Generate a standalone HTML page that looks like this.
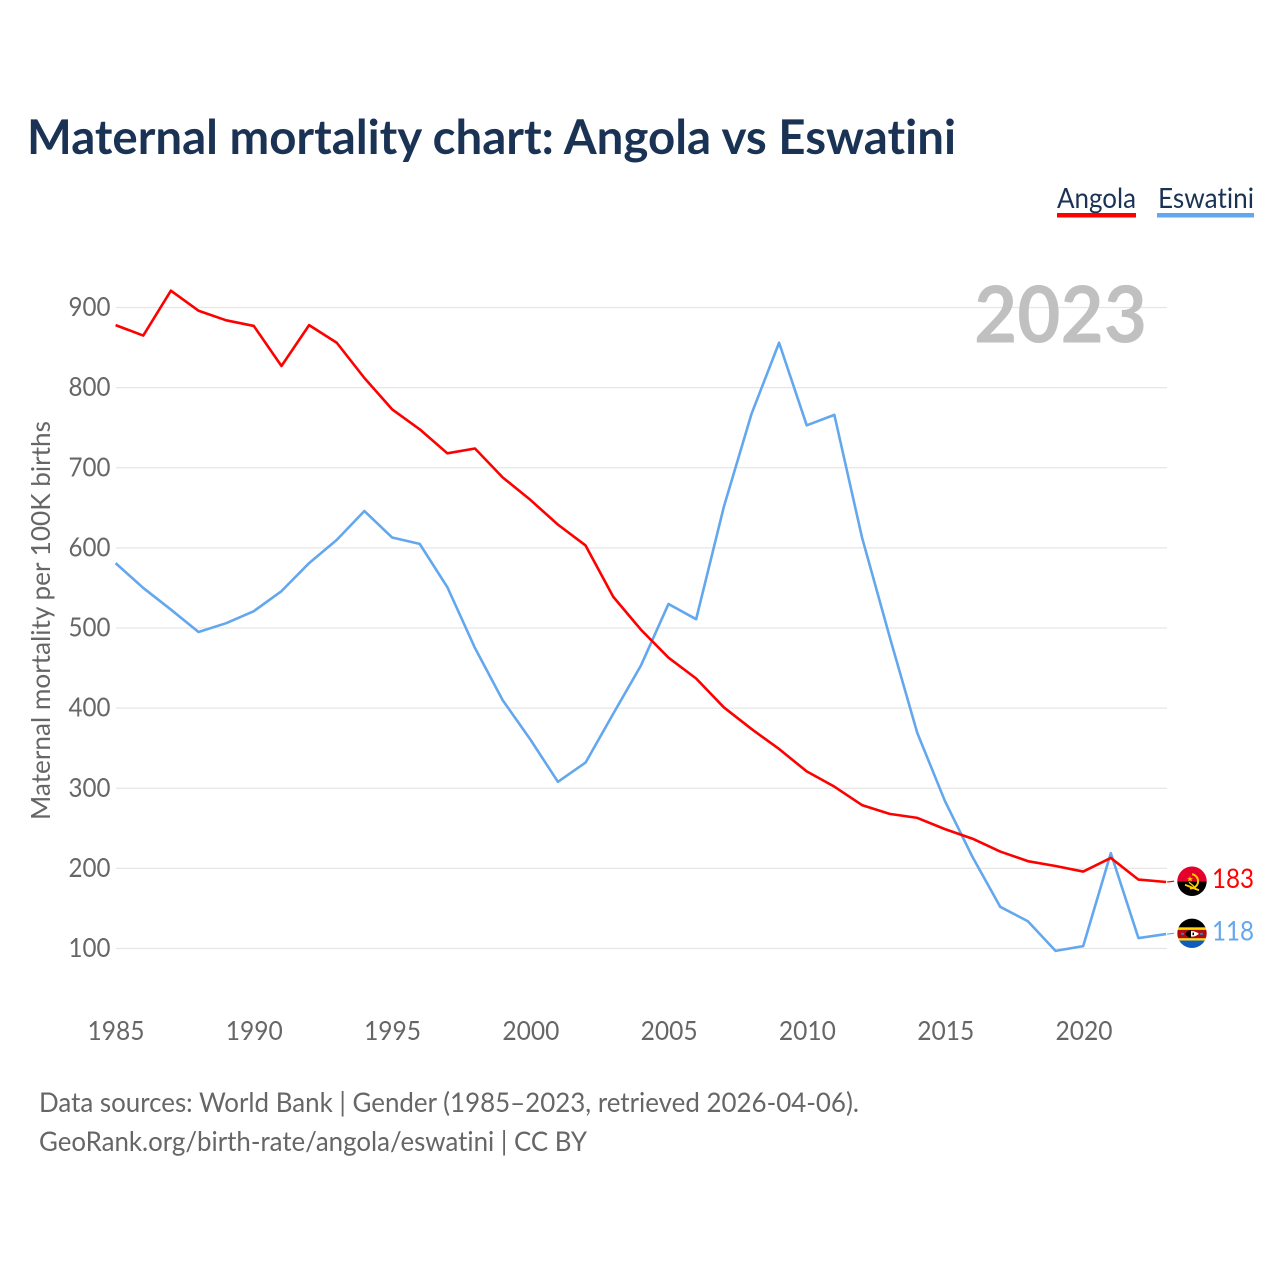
<!DOCTYPE html>
<html lang="en">
<head>
<meta charset="utf-8">
<title>Maternal mortality chart: Angola vs Eswatini</title>
<style>
html,body{margin:0;padding:0;background:#fff;}
svg{display:block;}
text{font-family:"Lato","Carlito","Liberation Sans",sans-serif;font-variant-ligatures:none;font-feature-settings:"liga" 0;}
</style>
</head>
<body>
<svg id="chart" width="1280" height="1280" viewBox="0 0 1280 1280" xmlns="http://www.w3.org/2000/svg">
  <defs>
    <clipPath id="flag-clip"><circle cx="0" cy="0" r="14.7"></circle></clipPath>
  </defs>
  <rect x="0" y="0" width="1280" height="1280" fill="#ffffff"></rect>
  <text x="27" y="154" font-size="47.5" font-weight="700" fill="#1a3355" textLength="929" lengthAdjust="spacingAndGlyphs">Maternal mortality chart: Angola vs Eswatini</text>

  <text x="1057" y="208" font-size="28" fill="#1a3355" textLength="79" lengthAdjust="spacingAndGlyphs">Angola</text>
  <rect x="1057" y="213" width="79" height="4.5" fill="#ff0000"></rect>
  <text x="1158" y="208" font-size="28" fill="#1a3355" textLength="96" lengthAdjust="spacingAndGlyphs">Eswatini</text>
  <rect x="1157" y="213" width="97" height="4.5" fill="#63a7ee"></rect>

  <g id="grid"></g>
  <text x="974" y="342.5" font-size="79" font-weight="700" fill="#c0c0c0" textLength="173" lengthAdjust="spacingAndGlyphs">2023</text>
  <g id="y-ticks"></g>
  <g id="x-ticks"></g>
  <text transform="translate(50,820) rotate(-90)" x="0" y="0" font-size="26" fill="#666666" textLength="399" lengthAdjust="spacingAndGlyphs">Maternal mortality per 100K births</text>
  <g id="series"></g>
  <g id="ends"></g>

  <text x="39" y="1112" font-size="27.5" fill="#666666" textLength="820" lengthAdjust="spacingAndGlyphs">Data sources: World Bank | Gender (1985–2023, retrieved 2026-04-06).</text>
  <text x="39" y="1151" font-size="27.5" fill="#666666" textLength="548" lengthAdjust="spacingAndGlyphs">GeoRank.org/birth-rate/angola/eswatini | CC BY</text>
</svg>
<script>
const years = [1985,1986,1987,1988,1989,1990,1991,1992,1993,1994,1995,1996,1997,1998,1999,2000,2001,2002,2003,2004,2005,2006,2007,2008,2009,2010,2011,2012,2013,2014,2015,2016,2017,2018,2019,2020,2021,2022,2023];
const angola = [878,865,921,896,884,877,827,878,856,812,773,748,718,724,688,660,629,603,539,498,463,437,401,374,349,321,302,279,268,263,249,237,221,209,203,196,213,186,183];
const eswatini = [581,550,523,495,506,521,546,581,610,646,613,605,551,475,410,361,308,332,393,453,530,511,651,767,856,753,766,613,489,369,284,214,152,134,97,103,219,113,118];
const yTickValues = [100,200,300,400,500,600,700,800,900];
const xTickValues = [1985,1990,1995,2000,2005,2010,2015,2020];

const NS = 'http://www.w3.org/2000/svg';
const xScale = function (year) { return 115.6 + (year - 1985) * 27.645; };
const yScale = function (value) { return 948.5 - (value - 100) * 0.80125; };

function make(tag, attrs, parent) {
  const el = document.createElementNS(NS, tag);
  Object.keys(attrs).forEach(function (k) { el.setAttribute(k, attrs[k]); });
  parent.appendChild(el);
  return el;
}

const gridGroup = document.getElementById('grid');
const yTickGroup = document.getElementById('y-ticks');
const xTickGroup = document.getElementById('x-ticks');
const seriesGroup = document.getElementById('series');
const endsGroup = document.getElementById('ends');

yTickValues.forEach(function (v) {
  const line = make('line', {x1: 116, x2: 1167, y1: yScale(v), y2: yScale(v), stroke: '#e6e6e6', 'stroke-width': 1.2}, gridGroup);
  
  
  const label = make('text', {x: 110.5, y: yScale(v) + 8.5, 'text-anchor': 'end', 'font-size': 26, fill: '#666666', textLength: 42, lengthAdjust: 'spacingAndGlyphs'}, yTickGroup);
  label.textContent = v;
  
  
});

xTickValues.forEach(function (year) {
  const label = make('text', {x: 116 + (year - 1985) * 27.657, y: 1040, 'text-anchor': 'middle', 'font-size': 26, fill: '#666666', textLength: 57, lengthAdjust: 'spacingAndGlyphs'}, xTickGroup);
  label.textContent = year;
  
  
});

function drawLine(values, color, name) {
  const points = values.map(function (v, i) { return xScale(years[i]).toFixed(2) + ',' + yScale(v).toFixed(2); }).join(' ');
  const line = make('polyline', {points: points, fill: 'none', stroke: color, 'stroke-width': 2.6, 'stroke-linejoin': 'round'}, seriesGroup);
  
  
}

function drawEnd(values, color, name, drawFlag) {
  const last = values[values.length - 1];
  const ex = xScale(years[years.length - 1]);
  const ey = yScale(last);
  const cy = ey - 0.75;
  const connector = make('line', {x1: ex + 1, y1: ey, x2: 1174, y2: cy, stroke: color, 'stroke-width': 1.2}, endsGroup);
  
  
  const flag = make('g', {transform: 'translate(1192,' + cy + ')', 'clip-path': 'url(#flag-clip)'}, endsGroup);
  
  
  drawFlag(flag);
  const label = make('text', {x: 1212, y: cy + 7, 'font-size': 27.5, fill: color, textLength: 42, lengthAdjust: 'spacingAndGlyphs'}, endsGroup);
  label.textContent = last;
  
  
}

function angolaFlag(g) {
  make('rect', {x: -15, y: -15, width: 30, height: 15, fill: '#e4002b'}, g);
  make('rect', {x: -15, y: 0, width: 30, height: 15, fill: '#000000'}, g);
  make('path', {d: 'M0,-7 A7,7 0 0 1 -2,7', fill: 'none', stroke: '#ffcb00', 'stroke-width': 2}, g);
  make('path', {d: 'M-7,3.5 L7,9', fill: 'none', stroke: '#ffcb00', 'stroke-width': 2}, g);
  make('path', {d: 'M-3,1 L3,6', fill: 'none', stroke: '#ffcb00', 'stroke-width': 1.4}, g);
  make('polygon', {points: '-2,-5 -1.2,-3 1,-3 -0.7,-1.8 0,0.3 -2,-1 -4,0.3 -3.3,-1.8 -5,-3 -2.8,-3', fill: '#ffcb00'}, g);
}

function eswatiniFlag(g) {
  make('rect', {x: -15, y: -15, width: 30, height: 10, fill: '#000000'}, g);
  make('rect', {x: -15, y: -6, width: 30, height: 2.5, fill: '#ffd900'}, g);
  make('rect', {x: -15, y: -3.5, width: 30, height: 8.5, fill: '#b10c0c'}, g);
  make('rect', {x: -15, y: 5, width: 30, height: 2.2, fill: '#ffd900'}, g);
  make('rect', {x: -15, y: 7.2, width: 30, height: 8, fill: '#0f5cc0'}, g);
  make('path', {d: 'M-7,0.5 Q0,-5 7,0.5 Q0,6 -7,0.5 Z', fill: '#ffffff'}, g);
  make('path', {d: 'M-7,0.5 Q-4,-3.5 -1,-3.2 L-1,4.2 Q-4,4.5 -7,0.5 Z', fill: '#000000'}, g);
  make('rect', {x: 0.5, y: -0.7, width: 1.5, height: 2.5, fill: '#000000'}, g);
  make('rect', {x: -11, y: -0.5, width: 3, height: 2, fill: '#3a78c8'}, g);
  make('rect', {x: 8, y: -0.5, width: 3, height: 2, fill: '#3a78c8'}, g);
}

drawLine(eswatini, '#63a7ee', 'eswatini-line');
drawLine(angola, '#ff0000', 'angola-line');
drawEnd(angola, '#ff0000', 'angola', angolaFlag);
drawEnd(eswatini, '#63a7ee', 'eswatini', eswatiniFlag);
</script>
</body>
</html>
